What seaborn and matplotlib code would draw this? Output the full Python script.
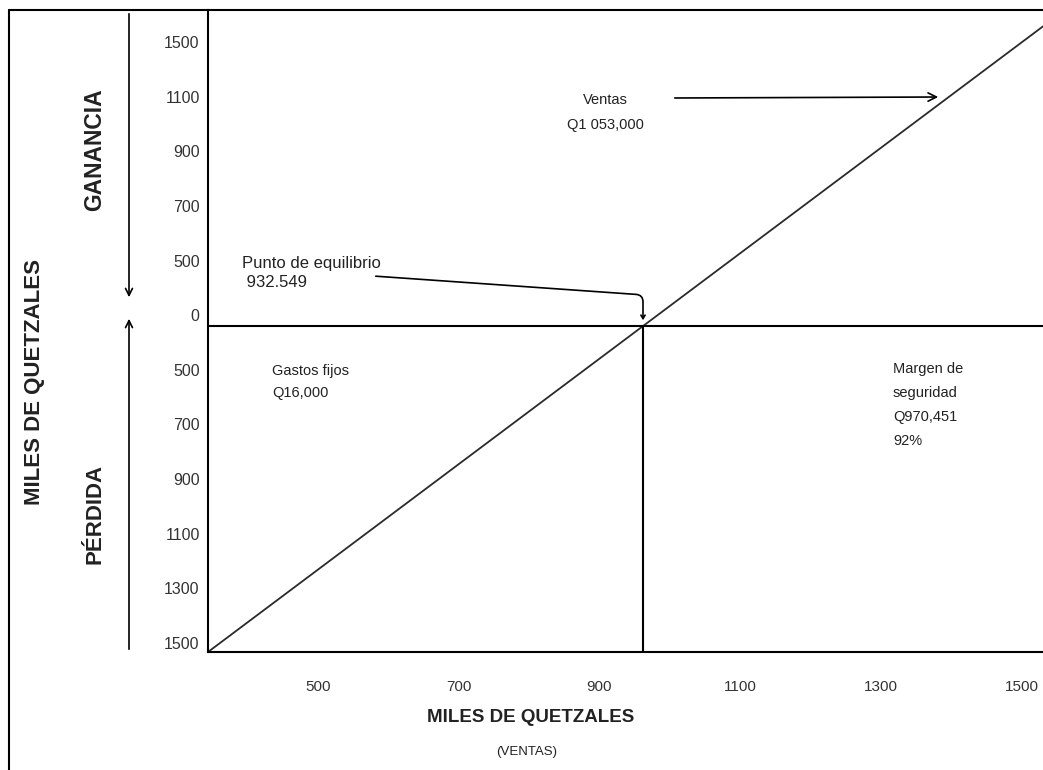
import numpy as np
import matplotlib
matplotlib.use('AGG')
import matplotlib.pyplot as plt
from matplotlib.lines import Line2D
import seaborn as sns

# ------------------------------------------------------------------------------
#                                                                           DATA
# ------------------------------------------------------------------------------
# x axis: ventas (miles de quetzales)
x_ticks = [500, 700, 900, 1100, 1300, 1500]
x_ticklabels = ["500", "700", "900", "1100", "1300", "1500"]
x_limits = [344, 1530]

# y axis: the labels are not linear, so the axis runs on label steps
y_ticklabels = ["1500", "1100", "900", "700", "500", "0",
                "500", "700", "900", "1100", "1300", "1500"]
y_ticks = [5.2, 4.2, 3.2, 2.2, 1.2, 0.2, -0.8, -1.8, -2.8, -3.8, -4.8, -5.8]
y_limits = [-5.97, 5.79]

# sales line
ventas_x = [344, 1530]
ventas_y = [-5.97, 5.49]

# break-even point
equilibrio_x = 962
equilibrio_y = 0

# annotation texts
txt_ventas = "Ventas\nQ1 053,000"
txt_equilibrio = "Punto de equilibrio\n 932.549"
txt_gastos = "Gastos fijos\nQ16,000"
txt_margen = "Margen de\nseguridad\nQ970,451\n92%"

# ------------------------------------------------------------------------------
#                                                                          STYLE
# ------------------------------------------------------------------------------
sns.set_style("white")
plt.rcParams['font.family'] = ['Liberation Sans', 'DejaVu Sans']
W, H = 1043, 770
TXT = "#222222"

fig = plt.figure(figsize=(W / 100, H / 100), dpi=100)
ax = fig.add_axes([208 / W, 1 - 652 / H, (W - 208) / W, (652 - 10) / H])

# Sales line
sns.lineplot(x=ventas_x, y=ventas_y, color="#2a2a2a", lw=1.3, ax=ax)

# Zero line and break-even vertical
ax.axhline(equilibrio_y, color="black", lw=1.5)
ax.vlines(equilibrio_x, y_limits[0], equilibrio_y, color="black", lw=1.5)

ax.set_xlim(x_limits)
ax.set_ylim(y_limits)
ax.set_xticks(x_ticks)
ax.set_xticklabels(x_ticklabels, fontsize=11, color="#333333")
ax.set_yticks(y_ticks)
ax.set_yticklabels(y_ticklabels, fontsize=11.5, color="#333333")
ax.tick_params(axis="x", length=0, pad=20)
ax.tick_params(axis="y", length=0, pad=6)
ax.grid(False)

for side in ["top", "right"]:
    ax.spines[side].set_visible(False)
for side in ["left", "bottom"]:
    ax.spines[side].set_color("black")
    ax.spines[side].set_linewidth(1.5)

# Outer frame (top and left only)
fig.add_artist(Line2D([9 / W, 1], [1 - 10 / H, 1 - 10 / H], color="black", lw=1.5))
fig.add_artist(Line2D([9 / W, 9 / W], [1 - 10 / H, 0], color="black", lw=1.5))


# Annotations (figure pixel coords, origin bottom left)
def px(x, y):
    return (x, H - y)


ax.text(*px(605, 112), txt_ventas, transform=None, ha="center", va="center",
        fontsize=10.5, color=TXT, linespacing=2.0)
ax.annotate("", xy=px(941, 97), xytext=px(672, 98),
            xycoords="figure pixels", textcoords="figure pixels",
            arrowprops=dict(arrowstyle="->,head_length=0.6,head_width=0.3",
                            color="black", lw=1.2))

ax.text(*px(242, 273), txt_equilibrio, transform=None, ha="left", va="center",
        fontsize=12, color=TXT, linespacing=1.35)
ax.annotate("", xy=px(643, 323), xytext=px(373, 276),
            xycoords="figure pixels", textcoords="figure pixels",
            arrowprops=dict(arrowstyle="->,head_length=0.25,head_width=0.15",
                            connectionstyle="angle,angleA=-4,angleB=90,rad=7",
                            color="black", lw=1.2))

ax.text(*px(272, 382), txt_gastos, transform=None, ha="left", va="center",
        fontsize=10.5, color=TXT, linespacing=1.8)
ax.text(*px(893, 405), txt_margen, transform=None, ha="left", va="center",
        fontsize=10.5, color=TXT, linespacing=1.9)

# Left side labels and arrows
fig.text(35 / W, 1 - 382 / H, "MILES DE QUETZALES", rotation=90, ha="center",
         va="center", fontsize=16, fontweight="bold", color=TXT)
fig.text(95 / W, 1 - 150 / H, "GANANCIA", rotation=90, ha="center",
         va="center", fontsize=16.5, fontweight="bold", color=TXT)
fig.text(95 / W, 1 - 514 / H, "PÉRDIDA", rotation=90, ha="center",
         va="center", fontsize=16, fontweight="bold", color=TXT)

ax.annotate("", xy=px(129, 300), xytext=px(129, 11),
            xycoords="figure pixels", textcoords="figure pixels",
            arrowprops=dict(arrowstyle="->,head_length=0.5,head_width=0.25",
                            color="black", lw=1.2))
ax.annotate("", xy=px(129, 316), xytext=px(129, 652),
            xycoords="figure pixels", textcoords="figure pixels",
            arrowprops=dict(arrowstyle="->,head_length=0.5,head_width=0.25",
                            color="black", lw=1.2))

# Bottom labels
fig.text(531 / W, 1 - 718 / H, "MILES DE QUETZALES", ha="center", va="center",
         fontsize=13.5, fontweight="bold", color=TXT)
fig.text(527 / W, 1 - 752 / H, "(VENTAS)", ha="center", va="center",
         fontsize=9.5, color=TXT)

fig.savefig("out.png", dpi=100)
plt.close(fig)
